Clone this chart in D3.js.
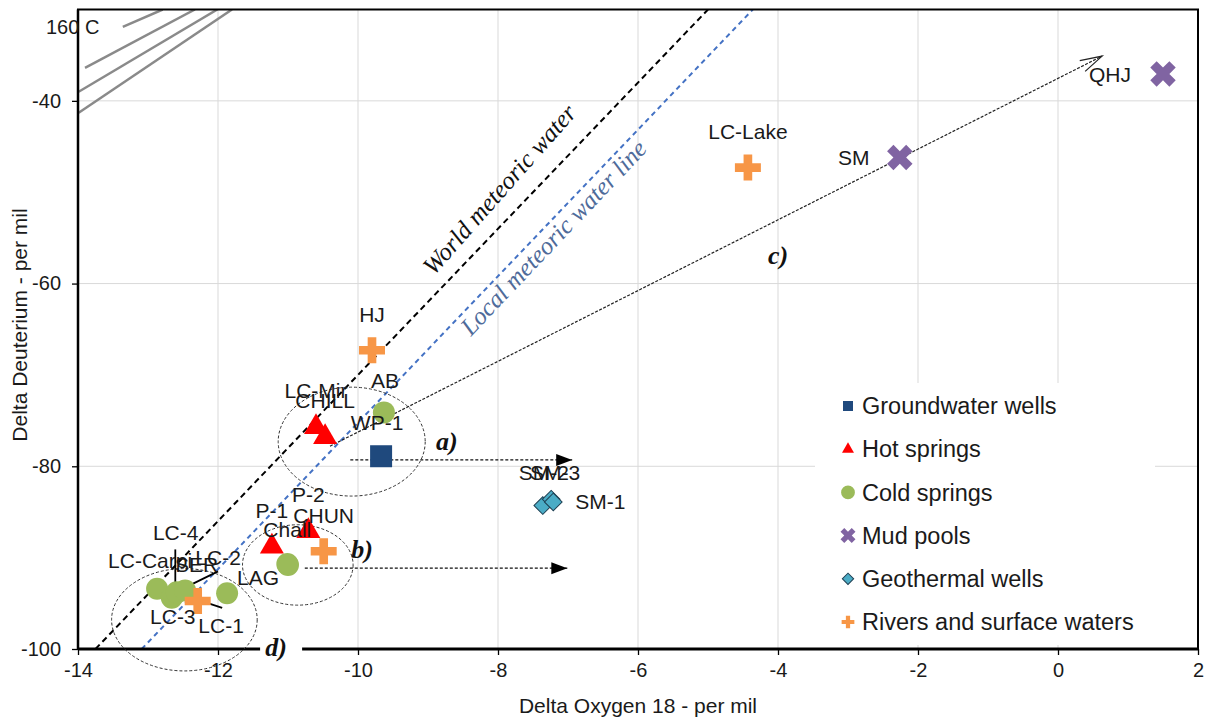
<!DOCTYPE html>
<html>
<head>
<meta charset="utf-8">
<script src="https://cdn.jsdelivr.net/npm/d3@7"></script>
<style>
  body { margin: 0; background: #fff; }
  text { font-family: Arial, "Liberation Sans", sans-serif; }
</style>
</head>
<body>
<script>
// data (delta 18O, delta D in per mil)
var xTicks = [-14, -12, -10, -8, -6, -4, -2, 0, 2];
var yTicks = [-100, -80, -60, -40];

var groundwaterWells = [
  { name: "WP-1", o18: -9.67, dD: -78.9 }
];
var hotSprings = [
  { name: "LC-Mir", o18: -10.60, dD: -75.7 },
  { name: "CHILL", o18: -10.47, dD: -76.8 },
  { name: "P-1", o18: -11.23, dD: -88.8 },
  { name: "P-2", o18: -10.71, dD: -87.1 }
];
var coldSprings = [
  { name: "AB", o18: -9.63, dD: -74.1 },
  { name: "Chall", o18: -11.01, dD: -90.7 },
  { name: "LAG", o18: -11.00, dD: -90.8 },
  { name: "LC-Carpi", o18: -12.87, dD: -93.4 },
  { name: "LC-3", o18: -12.66, dD: -94.4 },
  { name: "LC-4", o18: -12.59, dD: -93.8 },
  { name: "LC-2", o18: -12.47, dD: -93.6 },
  { name: "LC-1", o18: -11.87, dD: -93.9 }
];
var mudPools = [
  { name: "SM", o18: -2.26, dD: -46.2 },
  { name: "QHJ", o18: 1.50, dD: -37.05 }
];
var geothermalWells = [
  { name: "SM-2", o18: -7.36, dD: -84.3 },
  { name: "SM-3", o18: -7.24, dD: -83.6 },
  { name: "SM-1", o18: -7.21, dD: -83.9 }
];
var riversSurface = [
  { name: "SER", o18: -12.29, dD: -94.75 },
  { name: "CHUN", o18: -10.49, dD: -89.3 },
  { name: "HJ", o18: -9.80, dD: -67.3 },
  { name: "LC-Lake", o18: -4.43, dD: -47.3 }
];

// reference lines
var worldLine = [[-13.75, -100], [-5.0, -30]];
var localLine = [[-13.09, -100], [-4.36, -30]];
var isoLines = [
  [[-13.36, -31.9], [-12.79, -30]],
  [[-13.90, -36.4], [-12.33, -30]],
  [[-13.99, -39.0], [-12.01, -30]],
  [[-13.99, -41.3], [-11.80, -30]]
];
var leaderLines = [
  [[-12.61, -89.1], [-12.61, -93.8]],
  [[-12.61, -93.8], [-12.00, -91.5]],
  [[-12.61, -93.8], [-11.94, -95.5]],
  [[-12.87, -92.6], [-12.87, -93.4]]
];
var arrowA = [[-10.11, -79.3], [-6.94, -79.3]];
var arrowB = [[-10.76, -91.15], [-7.01, -91.15]];
var arrowC = [[-10.40, -77.8], [0.63, -35.1]];
var groups = [
  { id: "a)", cx: -10.09, cy: -77.3, rx: 1.05, ry: 5.96, lx: -8.73, ly: -77.2 },
  { id: "b)", cx: -10.86, cy: -90.8, rx: 0.79, ry: 4.4, lx: -9.94, ly: -89.0 },
  { id: "c)", cx: null, lx: -4.0, ly: -56.9 },
  { id: "d)", cx: -12.48, cy: -96.8, rx: 1.04, ry: 5.6, lx: -11.17, ly: -99.8 }
];

var width = 1207, height = 718;
var margin = { top: 9.5, right: 9, bottom: 69, left: 78 };

var x = d3.scaleLinear().domain([-14, 2]).range([margin.left, width - margin.right]);
var y = d3.scaleLinear().domain([-100, -30]).range([height - margin.bottom, margin.top]);

var series = [
  { name: "Groundwater wells", data: groundwaterWells, type: d3.symbolSquare, size: 484, legendSize: 100, color: "#1f497d", rotate: 0 },
  { name: "Hot springs", data: hotSprings, type: d3.symbolTriangle, size: 250, legendSize: 62, color: "#ff0000", rotate: 0 },
  { name: "Cold springs", data: coldSprings, type: d3.symbolCircle, size: 380, legendSize: 150, color: "#9bbb59", rotate: 0 },
  { name: "Mud pools", data: mudPools, type: d3.symbolCross, size: 405, legendSize: 140, color: "#8064a2", rotate: 45 },
  { name: "Geothermal wells", data: geothermalWells, type: d3.symbolSquare, size: 156, legendSize: 64, color: "#4bacc6", rotate: 45, stroke: "#1e3f52" },
  { name: "Rivers and surface waters", data: riversSurface, type: d3.symbolCross, size: 375, legendSize: 90, color: "#f79646", rotate: 0 }
];

// where each label sits relative to its marker (px); default is above
var labelOffset = {
  "SM": [-46, 0], "QHJ": [-53, 1], "SM-1": [47, 0],
  "SM-2": [1, -33], "SM-3": [4, -27],
  "LAG": [-30, 13], "WP-1": [-4, -34], "AB": [1, -32],
  "LC-Carpi": [-7, -28], "LC-3": [1, 19], "LC-4": [-1, -60],
  "LC-2": [33, -33], "LC-1": [-6, 32], "SER": [-1, -36], "Chall": [0, -34]
};

var svg = d3.select("body").append("svg")
  .attr("width", width)
  .attr("height", height);

// gridlines
svg.append("g").selectAll("line.vgrid")
  .data(xTicks)
  .enter().append("line")
  .attr("x1", function(d) { return x(d); })
  .attr("x2", function(d) { return x(d); })
  .attr("y1", y(-30)).attr("y2", y(-100))
  .style("stroke", "#d9d9d9").style("stroke-width", 1);

svg.append("g").selectAll("line.hgrid")
  .data(yTicks)
  .enter().append("line")
  .attr("x1", x(-14)).attr("x2", x(2))
  .attr("y1", function(d) { return y(d); })
  .attr("y2", function(d) { return y(d); })
  .style("stroke", "#d9d9d9").style("stroke-width", 1);

var line = d3.line()
  .x(function(d) { return x(d[0]); })
  .y(function(d) { return y(d[1]); });

var defs = svg.append("defs");
defs.append("clipPath").attr("id", "plot")
  .append("rect")
  .attr("x", x(-14)).attr("y", y(-30))
  .attr("width", x(2) - x(-14)).attr("height", y(-100) - y(-30));

defs.append("marker")
  .attr("id", "head-filled")
  .attr("markerUnits", "userSpaceOnUse")
  .attr("markerWidth", 18).attr("markerHeight", 14)
  .attr("refX", 16).attr("refY", 7)
  .attr("orient", "auto")
  .append("path")
  .attr("d", "M0,1 L16,7 L0,13 Z")
  .style("fill", "#000");

defs.append("marker")
  .attr("id", "head-open")
  .attr("markerUnits", "userSpaceOnUse")
  .attr("markerWidth", 26).attr("markerHeight", 16)
  .attr("refX", 23).attr("refY", 8)
  .attr("orient", "auto")
  .append("path")
  .attr("d", "M1,2 L23,8 L1,14")
  .style("fill", "none").style("stroke", "#222").style("stroke-width", 1.2);

var plot = svg.append("g").attr("clip-path", "url(#plot)");

// 160 C lines
plot.selectAll(".iso")
  .data(isoLines)
  .enter().append("path")
  .attr("class", "iso")
  .attr("d", line)
  .style("fill", "none").style("stroke", "#8a8a8a").style("stroke-width", 2.5);

plot.append("path").datum(worldLine)
  .attr("d", line)
  .style("fill", "none").style("stroke", "#000")
  .style("stroke-width", 2).style("stroke-dasharray", "6,4");

plot.append("path").datum(localLine)
  .attr("d", line)
  .style("fill", "none").style("stroke", "#4472c4")
  .style("stroke-width", 2).style("stroke-dasharray", "5,4");

// arrows
[arrowA, arrowB].forEach(function(a) {
  plot.append("path").datum(a)
    .attr("d", line)
    .attr("marker-end", "url(#head-filled)")
    .style("fill", "none").style("stroke", "#111")
    .style("stroke-width", 1.2).style("stroke-dasharray", "3,2");
});
svg.append("path").datum(arrowC)
  .attr("d", line)
  .attr("marker-end", "url(#head-open)")
  .style("fill", "none").style("stroke", "#222")
  .style("stroke-width", 1.2).style("stroke-dasharray", "3,1.5");

// leader lines
plot.selectAll(".leader")
  .data(leaderLines)
  .enter().append("path")
  .attr("d", line)
  .style("fill", "none").style("stroke", "#000").style("stroke-width", 1.8);

// axes
var yAxis = svg.append("g")
  .attr("transform", "translate(" + x(-14) + ",0)")
  .call(d3.axisLeft(y).tickValues(yTicks).tickSize(6).tickPadding(11)
    .tickFormat(function(d) { return String(d); }));
var xAxis = svg.append("g")
  .attr("transform", "translate(0," + y(-100) + ")")
  .call(d3.axisBottom(x).tickValues(xTicks).tickSize(6).tickPadding(8)
    .tickFormat(function(d) { return String(d); }));
[xAxis, yAxis].forEach(function(ax) {
  ax.select(".domain").remove();
  ax.selectAll("line").style("stroke", "#000").style("stroke-width", 1.3);
  ax.selectAll("text")
    .style("font-size", "20px").style("fill", "#1a1a1a")
    .style("font-family", "Arial, 'Liberation Sans', sans-serif");
});

svg.append("rect")
  .attr("x", x(-14)).attr("y", y(-30))
  .attr("width", x(2) - x(-14)).attr("height", y(-100) - y(-30))
  .style("fill", "none").style("stroke", "#000").style("stroke-width", 2);
svg.append("line")
  .attr("x1", x(-14)).attr("x2", x(2)).attr("y1", y(-100)).attr("y2", y(-100))
  .style("stroke", "#000").style("stroke-width", 3);
svg.append("line")
  .attr("x1", x(-14)).attr("x2", x(-14)).attr("y1", y(-30)).attr("y2", y(-100))
  .style("stroke", "#000").style("stroke-width", 2.5);

// group ellipses (they spill past the frame, so no clip)
svg.append("g").selectAll(".grp")
  .data(groups.filter(function(g) { return g.cx !== null; }))
  .enter().append("ellipse")
  .attr("cx", function(d) { return x(d.cx); })
  .attr("cy", function(d) { return y(d.cy); })
  .attr("rx", function(d) { return x(d.cx + d.rx) - x(d.cx); })
  .attr("ry", function(d) { return y(d.cy - d.ry) - y(d.cy); })
  .style("fill", "none").style("stroke", "#333")
  .style("stroke-width", 1).style("stroke-dasharray", "3,2");

svg.append("text")
  .attr("x", 46).attr("y", 34)
  .style("font-size", "20px").style("fill", "#1a1a1a")
  .text("160 C");

// markers
series.forEach(function(s) {
  var sym = d3.symbol().type(s.type).size(s.size);
  svg.append("g").selectAll("path")
    .data(s.data)
    .enter().append("path")
    .attr("d", sym)
    .attr("transform", function(d) {
      return "translate(" + x(d.o18) + "," + y(d.dD) + ") rotate(" + s.rotate + ")";
    })
    .style("fill", s.color)
    .style("stroke", s.stroke || "none")
    .style("stroke-width", 1);
});

// point labels
series.forEach(function(s) {
  svg.append("g").selectAll("text")
    .data(s.data)
    .enter().append("text")
    .attr("x", function(d) { return x(d.o18) + (labelOffset[d.name] || [0, -36])[0]; })
    .attr("y", function(d) { return y(d.dD) + (labelOffset[d.name] || [0, -36])[1]; })
    .attr("text-anchor", "middle")
    .attr("dy", "0.35em")
    .style("font-size", "21px").style("fill", "#1a1a1a")
    .text(function(d) { return d.name; });
});

// line captions
svg.append("text")
  .attr("transform", "translate(" + x(-7.89) + "," + y(-50.3) + ") rotate(-48.5)")
  .attr("text-anchor", "middle")
  .style("font-family", "'Liberation Serif', 'DejaVu Serif', serif")
  .style("font-style", "italic").style("font-size", "25px").style("fill", "#111")
  .text("World meteoric water");
svg.append("text")
  .attr("transform", "translate(" + x(-7.12) + "," + y(-55.6) + ") rotate(-46.5)")
  .attr("text-anchor", "middle")
  .style("font-family", "'Liberation Serif', 'DejaVu Serif', serif")
  .style("font-style", "italic").style("font-size", "25px").style("fill", "#4f6b9a")
  .text("Local meteoric water line");

// group letters
var letters = svg.append("g").selectAll("g")
  .data(groups)
  .enter().append("g")
  .attr("transform", function(d) { return "translate(" + x(d.lx) + "," + y(d.ly) + ")"; });
letters.filter(function(d) { return d.id === "d)"; })
  .append("rect")
  .attr("x", -16).attr("y", -14).attr("width", 42).attr("height", 28)
  .style("fill", "#fff");
letters.append("text")
  .attr("text-anchor", "middle")
  .attr("dy", "0.35em")
  .style("font-family", "'Liberation Serif', 'DejaVu Serif', serif")
  .style("font-style", "italic").style("font-weight", "bold")
  .style("font-size", "26px").style("fill", "#111")
  .text(function(d) { return d.id; });

// axis titles
svg.append("text")
  .attr("x", (x(-14) + x(2)) / 2).attr("y", 713)
  .attr("text-anchor", "middle")
  .style("font-size", "21px").style("fill", "#1a1a1a")
  .text("Delta Oxygen 18 - per mil");
svg.append("text")
  .attr("transform", "translate(27," + 325 + ") rotate(-90)")
  .attr("text-anchor", "middle")
  .style("font-size", "21px").style("fill", "#1a1a1a")
  .text("Delta Deuterium - per mil");

// legend
var legend = svg.append("g").attr("class", "legend");
legend.append("rect")
  .attr("x", 815).attr("y", 383).attr("width", 340).attr("height", 262)
  .style("fill", "#fff");
var items = legend.selectAll(".item")
  .data(series)
  .enter().append("g")
  .attr("transform", function(d, i) { return "translate(848," + (406 + i * 43.2) + ")"; });
items.append("path")
  .attr("d", function(d) { return d3.symbol().type(d.type).size(d.legendSize)(); })
  .attr("transform", function(d) { return "rotate(" + d.rotate + ")"; })
  .style("fill", function(d) { return d.color; })
  .style("stroke", function(d) { return d.stroke || "none"; });
items.append("text")
  .attr("x", 14).attr("dy", "0.35em")
  .style("font-size", "23.5px").style("fill", "#1a1a1a")
  .text(function(d) { return d.name; });
</script>
</body>
</html>
